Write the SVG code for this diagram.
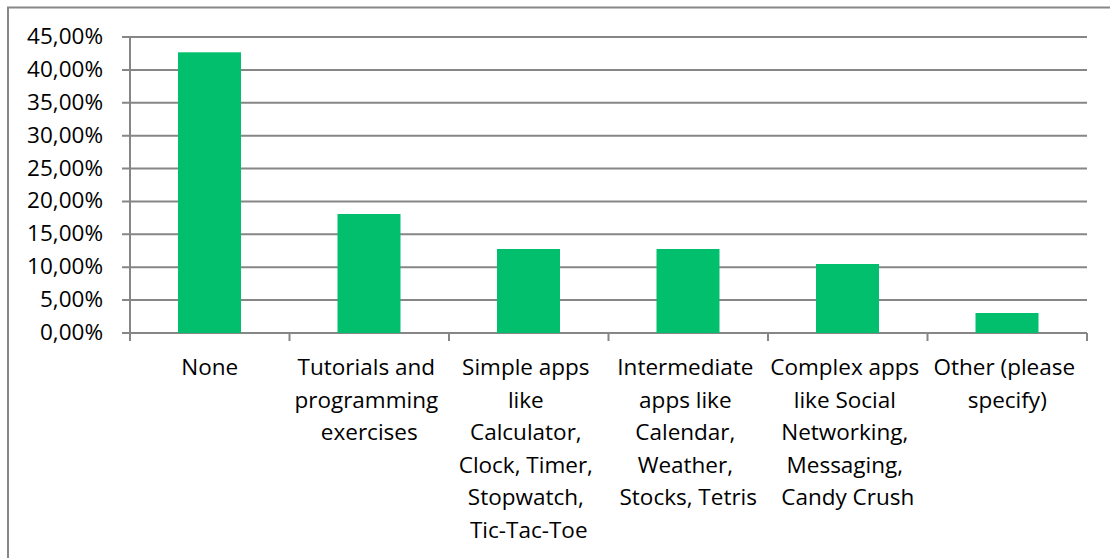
<svg xmlns="http://www.w3.org/2000/svg" width="1110" height="558" viewBox="0 0 1110 558">
  <style>
    .grid { stroke: #868686; stroke-width: 2; fill: none; }
    .axis { stroke: #868686; stroke-width: 2; fill: none; }
    .bar { fill: #02BF6E; }
    .ylab { font-family: "Open Sans", "Liberation Sans", sans-serif; font-size: 22.5px; fill: #000; text-anchor: end; }
    .xlab { font-family: "Open Sans", "Liberation Sans", sans-serif; font-size: 22.5px; fill: #000; text-anchor: middle; }
  </style>
  <rect width="1110" height="558" fill="#fff"/>
  <!-- chart frame (extends past the right and bottom edges) -->
  <rect x="8" y="7.5" width="1120" height="580" fill="none" stroke="#878787" stroke-width="2"/>

  <!-- horizontal gridlines with left ticks, 5% steps -->
  <g id="gridlines">
    <path class="grid" d="M122 37H1087M122 69.9H1087M122 102.8H1087M122 135.7H1087M122 168.6H1087M122 201.4H1087M122 234.3H1087M122 267.2H1087M122 300.1H1087"/>
  </g>

  <!-- axes and category ticks -->
  <g id="axes">
    <path class="axis" d="M130 37V341M122 333H1087M289.5 333V341M449 333V341M608.5 333V341M768 333V341M927.5 333V341M1087 333V341"/>
  </g>

  <g id="y-labels">
    <text class="ylab" x="103" y="44">45,00%</text>
    <text class="ylab" x="103" y="76.9">40,00%</text>
    <text class="ylab" x="103" y="109.8">35,00%</text>
    <text class="ylab" x="103" y="142.7">30,00%</text>
    <text class="ylab" x="103" y="175.6">25,00%</text>
    <text class="ylab" x="103" y="208.4">20,00%</text>
    <text class="ylab" x="103" y="241.3">15,00%</text>
    <text class="ylab" x="103" y="274.2">10,00%</text>
    <text class="ylab" x="103" y="307.1">5,00%</text>
    <text class="ylab" x="103" y="340">0,00%</text>
  </g>

  <g id="bar-none">
    <rect class="bar" x="178" y="52.3" width="63" height="280.7"/>
    <text class="xlab" x="209.75" y="375">None</text>
  </g>
  <g id="bar-tutorials">
    <rect class="bar" x="337.5" y="214" width="63" height="119"/>
    <text class="xlab" x="369.25" y="375">
      <tspan x="369.25" y="375">Tutorials and</tspan>
      <tspan x="369.25" y="407.5">programming</tspan>
      <tspan x="369.25" y="440">exercises</tspan>
    </text>
  </g>
  <g id="bar-simple">
    <rect class="bar" x="497" y="249" width="63" height="84"/>
    <text class="xlab" x="528.75" y="375">
      <tspan x="528.75" y="375">Simple apps</tspan>
      <tspan x="528.75" y="407.5">like</tspan>
      <tspan x="528.75" y="440">Calculator,</tspan>
      <tspan x="528.75" y="472.5">Clock, Timer,</tspan>
      <tspan x="528.75" y="505">Stopwatch,</tspan>
      <tspan x="528.75" y="537.5">Tic-Tac-Toe</tspan>
    </text>
  </g>
  <g id="bar-intermediate">
    <rect class="bar" x="656.5" y="249" width="63" height="84"/>
    <text class="xlab" x="688.25" y="375">
      <tspan x="688.25" y="375">Intermediate</tspan>
      <tspan x="688.25" y="407.5">apps like</tspan>
      <tspan x="688.25" y="440">Calendar,</tspan>
      <tspan x="688.25" y="472.5">Weather,</tspan>
      <tspan x="688.25" y="505">Stocks, Tetris</tspan>
    </text>
  </g>
  <g id="bar-complex">
    <rect class="bar" x="816" y="264" width="63" height="69"/>
    <text class="xlab" x="847.75" y="375">
      <tspan x="847.75" y="375">Complex apps</tspan>
      <tspan x="847.75" y="407.5">like Social</tspan>
      <tspan x="847.75" y="440">Networking,</tspan>
      <tspan x="847.75" y="472.5">Messaging,</tspan>
      <tspan x="847.75" y="505">Candy Crush</tspan>
    </text>
  </g>
  <g id="bar-other">
    <rect class="bar" x="975.5" y="313" width="63" height="20"/>
    <text class="xlab" x="1007.25" y="375">
      <tspan x="1007.25" y="375">Other (please</tspan>
      <tspan x="1007.25" y="407.5">specify)</tspan>
    </text>
  </g>
</svg>
